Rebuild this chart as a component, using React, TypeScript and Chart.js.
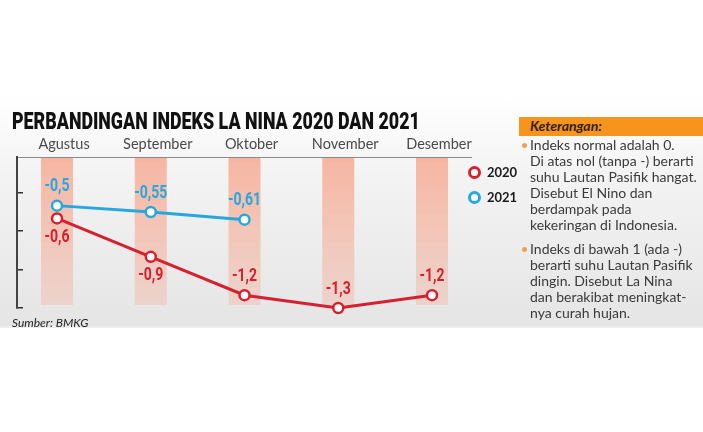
import React, { useEffect, useLayoutEffect, useRef } from 'react';
import { Chart, registerables } from 'chart.js';

Chart.register(...registerables);

const categories = ['Agustus', 'September', 'Oktober', 'November', 'Desember'];
const seriesNames = ['2020', '2021'];
const values2020 = [-0.6, -0.9, -1.2, -1.3, -1.2];
const values2021 = [-0.5, -0.55, -0.61, null, null];
const yTickValues = [-0.4, -0.7, -1.0, -1.3];
const yMin = -1.3;
const yMax = -0.12;

const notesBlock1 = [
  'Indeks normal adalah 0.',
  'Di atas nol (tanpa -) berarti',
  'suhu Lautan Pasifik hangat.',
  'Disebut El Nino dan',
  'berdampak pada',
  'kekeringan di Indonesia.',
];
const notesBlock2 = [
  'Indeks di bawah 1 (ada -)',
  'berarti suhu Lautan Pasifik',
  'dingin. Disebut La Nina',
  'dan berakibat meningkat-',
  'nya curah hujan.',
];

const RED = '#d6202f';
const BLUE = '#27a7df';
const FONT = 'Lato, "Open Sans", sans-serif';

const fmt = (v: number) => String(v).replace('.', ',');

const bandPlugin = {
  id: 'bands',
  beforeDatasetsDraw(chart: any) {
    const { ctx, chartArea, scales } = chart;
    const x = scales.x;
    const y = scales.y;
    const top = chartArea.top + 1;
    const bottom = y.getPixelForValue(yMin) - 3;
    const grad = ctx.createLinearGradient(0, top, 0, bottom);
    grad.addColorStop(0, 'rgba(246,165,140,0.8)');
    grad.addColorStop(1, 'rgba(246,165,140,0.3)');
    ctx.save();
    ctx.fillStyle = grad;
    categories.forEach((_, i) => {
      const cx = x.getPixelForValue(i);
      ctx.fillRect(cx - 16, top, 32, bottom - top);
    });
    ctx.restore();
  },
};

const labelPlugin = {
  id: 'valueLabels',
  afterDatasetsDraw(chart: any) {
    const { ctx } = chart;
    chart.data.datasets.forEach((ds: any, di: number) => {
      const meta = chart.getDatasetMeta(di);
      meta.data.forEach((pt: any, i: number) => {
        const v = ds.data[i].y;
        if (v === null || v === undefined) return;
        const side = ds.labelSide[i];
        const ty = side === 'above' ? pt.y - 19 : pt.y + 19;
        ctx.save();
        ctx.translate(pt.x, ty);
        ctx.scale(0.78, 1);
        ctx.font = 'bold 18px Roboto, sans-serif';
        ctx.fillStyle = ds.borderColor;
        ctx.textAlign = 'center';
        ctx.textBaseline = 'middle';
        ctx.fillText(fmt(v), 0, 0);
        ctx.restore();
      });
    });
  },
};

function ChartCanvas() {
  const ref = useRef<HTMLCanvasElement>(null);
  useEffect(() => {
    const canvas = ref.current;
    if (!canvas) return;
    const chart = new Chart(canvas, {
      type: 'line',
      data: {
        datasets: [
          {
            label: seriesNames[0],
            data: values2020.map((v, i) => ({ x: i, y: v })),
            borderColor: RED,
            backgroundColor: '#fff',
            borderWidth: 3,
            pointRadius: 5,
            pointBorderWidth: 2.5,
            pointBackgroundColor: '#fff',
            pointBorderColor: RED,
            clip: false,
            labelSide: ['below', 'below', 'above', 'above', 'above'],
          } as any,
          {
            label: seriesNames[1],
            data: values2021.map((v, i) => ({ x: i, y: v })),
            borderColor: BLUE,
            backgroundColor: '#fff',
            borderWidth: 3,
            pointRadius: 5,
            pointBorderWidth: 2.5,
            pointBackgroundColor: '#fff',
            pointBorderColor: BLUE,
            clip: false,
            labelSide: ['above', 'above', 'above', 'above', 'above'],
          } as any,
        ],
      },
      options: {
        animation: false,
        responsive: false,
        events: [],
        layout: { padding: { left: 17, right: 232, top: 135, bottom: 124 } },
        plugins: { legend: { display: false }, tooltip: { enabled: false } },
        scales: {
          x: {
            type: 'linear',
            position: 'top',
            min: -0.427,
            max: 4.416,
            afterBuildTicks: (s: any) => {
              s.ticks = categories.map((_, i) => ({ value: i }));
            },
            afterFit: (s: any) => {
              s.height = 22;
            },
            ticks: {
              callback: (v: any) => categories[v as number] ?? '',
              autoSkip: false,
              maxRotation: 0,
              minRotation: 0,
              padding: 4,
              labelOffset: 7,
              color: '#4a4a4a',
              font: { family: FONT, size: 14.5 },
            },
            grid: { display: false, drawTicks: false },
            border: { display: true, color: '#8a8a8a', width: 1 },
          },
          y: {
            type: 'linear',
            min: yMin,
            max: yMax,
            afterBuildTicks: (s: any) => {
              s.ticks = yTickValues.map((v) => ({ value: v }));
            },
            afterFit: (s: any) => {
              s.width = 0;
            },
            ticks: { display: false },
            grid: {
              display: true,
              drawOnChartArea: false,
              drawTicks: true,
              tickLength: -6,
              color: '#333',
              lineWidth: 1.5,
            },
            border: { display: true, color: '#444', width: 2 },
          },
        },
      },
      plugins: [bandPlugin, labelPlugin],
    } as any);
    return () => chart.destroy();
  }, []);
  return (
    <canvas
      ref={ref}
      width={703}
      height={432}
      style={{ position: 'absolute', left: 0, top: 0, width: 703, height: 432 }}
    />
  );
}

function Title() {
  const ref = useRef<HTMLSpanElement>(null);
  useLayoutEffect(() => {
    const el = ref.current;
    if (!el) return;
    const w = el.offsetWidth;
    if (w > 0) el.style.transform = `scaleX(${408 / w})`;
  }, []);
  return (
    <span
      ref={ref}
      style={{
        position: 'absolute',
        left: 12,
        top: 107,
        fontFamily: 'Roboto, sans-serif',
        fontWeight: 900,
        fontSize: 24,
        lineHeight: '28px',
        color: '#111',
        whiteSpace: 'nowrap',
        transformOrigin: '0 0',
      }}
    >
      PERBANDINGAN INDEKS LA NINA 2020 DAN 2021
    </span>
  );
}

function LegendItem({ name, color, top }: { name: string; color: string; top: number }) {
  return (
    <div style={{ position: 'absolute', left: 468, top: top - 8, height: 16, display: 'flex', alignItems: 'center' }}>
      <div
        style={{
          width: 7,
          height: 7,
          borderRadius: '50%',
          border: `3px solid ${color}`,
          background: '#fff',
        }}
      />
      <span style={{ marginLeft: 6, font: `bold 13px ${FONT}`, color: '#1a1a1a' }}>{name}</span>
    </div>
  );
}

function NoteBlock({ lines, top }: { lines: string[]; top: number }) {
  return (
    <div style={{ position: 'absolute', left: 530, top, font: `14px ${FONT}`, lineHeight: '16px', color: '#3a3a3a', whiteSpace: 'nowrap' }}>
      <div style={{ position: 'absolute', left: -8, top: 6, width: 5, height: 5, borderRadius: '50%', background: '#f5a04a' }} />
      {lines.map((l, i) => (
        <div key={i}>{l}</div>
      ))}
    </div>
  );
}

export default function App() {
  return (
    <div
      style={{
        position: 'absolute',
        left: 0,
        top: 0,
        width: 703,
        height: 432,
        overflow: 'hidden',
        background: '#fff',
      }}
    >
      <div
        style={{
          position: 'absolute',
          left: 0,
          top: 95,
          width: 703,
          height: 231,
          background: 'linear-gradient(#ffffff 0%, #f3f3f3 35%, #e5e5e5 100%)',
        }}
      />
      <div style={{ position: 'absolute', left: 0, top: 326, width: 703, height: 2, background: '#eeeeee' }} />
      <div
        style={{
          position: 'absolute',
          left: 519,
          top: 117,
          width: 184,
          height: 19,
          background: '#f7941d',
        }}
      />
      <div
        style={{
          position: 'absolute',
          left: 530,
          top: 117,
          height: 19,
          lineHeight: '19px',
          font: `italic bold 14px ${FONT}`,
          color: '#2e1e10',
        }}
      >
        Keterangan:
      </div>
      <ChartCanvas />
      <Title />
      <LegendItem name={seriesNames[0]} color={RED} top={172} />
      <LegendItem name={seriesNames[1]} color={BLUE} top={197} />
      <NoteBlock lines={notesBlock1} top={137} />
      <NoteBlock lines={notesBlock2} top={241} />
      <div
        style={{
          position: 'absolute',
          left: 12,
          top: 315,
          font: `italic 12px ${FONT}`,
          lineHeight: '16px',
          color: '#222',
        }}
      >
        Sumber: BMKG
      </div>
    </div>
  );
}
